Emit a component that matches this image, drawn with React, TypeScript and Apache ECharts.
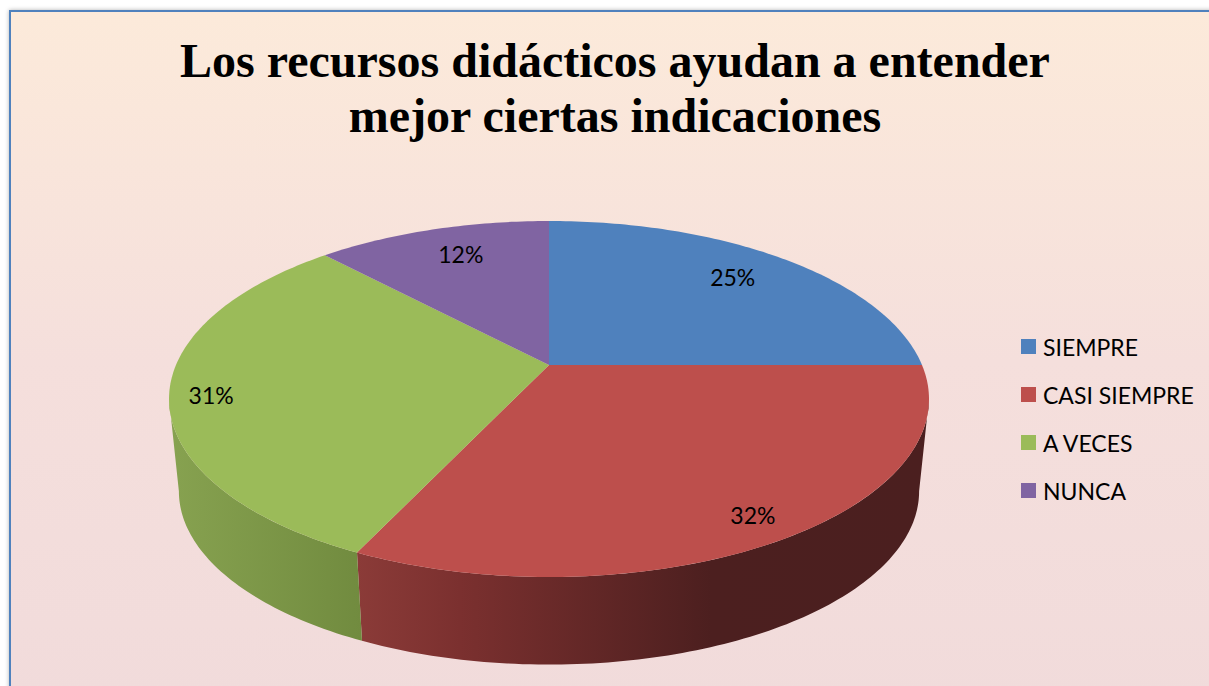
import React, { useEffect, useRef } from "react";
import * as echarts from "echarts";

const TITLE = "Los recursos didácticos ayudan a entender\nmejor ciertas indicaciones";
const categories = ["SIEMPRE", "CASI SIEMPRE", "A VECES", "NUNCA"];
const values = [25, 32, 31, 12];
const topColors = ["#4f81bd", "#bd4f4c", "#9bbb59", "#8064a2"];
const labelRadius = [0.769, 0.876, 0.89, 0.725];
const labelShift = [
  [0, -4],
  [0, 2],
  [-1, 5],
  [0, -9],
];

// Perspective disc model
const APEX_X = 549;
const APEX_Y = 365;
const A = 373;
const B = 171.5;
const K = 0.191;
const DEPTH_SCALE = 0.974;
const DEPTH_SHIFT = 102.6;
const WALL_FROM = 101;
const WALL_TO = 259;

const total = values.reduce((s, v) => s + v, 0);
const startOf = (i: number) => values.slice(0, i).reduce((s, v) => s + v, 0);
const rad = (d: number) => (d * Math.PI) / 180;

const project = (deg: number, t = 1): [number, number] => {
  const u = Math.sin(rad(deg)) * t;
  const v = -Math.cos(rad(deg)) * t;
  const d = 1 - K * v;
  return [APEX_X + (A * u) / d, APEX_Y + (B * v) / d];
};
const lower = (p: [number, number]): [number, number] => [
  APEX_X + (p[0] - APEX_X) * DEPTH_SCALE,
  p[1] * DEPTH_SCALE + DEPTH_SHIFT,
];
const arc = (a: number, b: number) => {
  const pts: [number, number][] = [];
  const n = Math.max(2, Math.ceil(Math.abs(b - a)));
  for (let i = 0; i <= n; i++) pts.push(project(a + ((b - a) * i) / n));
  return pts;
};

const wallFill = (i: number) =>
  i === 1
    ? new echarts.graphic.LinearGradient(0, 0, 1, 0, [
        { offset: 0, color: "#8b3b38" },
        { offset: 0.18, color: "#7b302f" },
        { offset: 0.62, color: "#4c1f1f" },
        { offset: 1, color: "#4b1f1f" },
      ])
    : new echarts.graphic.LinearGradient(0, 0, 1, 0, [
        { offset: 0, color: "#87a250" },
        { offset: 1, color: "#718b3f" },
      ]);

const renderSlice = (i: number) => (_: any, api: any) => {
  const value = api.value(0);
  const a0 = (startOf(i) / total) * 360;
  const a1 = a0 + (value / total) * 360;
  const children: any[] = [];
  const w0 = Math.max(a0, WALL_FROM);
  const w1 = Math.min(a1, WALL_TO);
  if (w1 > w0) {
    const up = arc(w0, w1);
    const down = up.map(lower).reverse();
    children.push({
      type: "polygon",
      shape: { points: [...up, ...down] },
      style: { fill: wallFill(i) },
    });
  }
  children.push({
    type: "polygon",
    shape: { points: [[APEX_X, APEX_Y], ...arc(a0, a1)] },
    style: { fill: topColors[i] },
  });
  const mid = (a0 + a1) / 2;
  const [lx, ly] = project(mid, labelRadius[i]);
  children.push({
    type: "text",
    z2: 10,
    style: {
      text: `${value}%`,
      x: lx + labelShift[i][0],
      y: ly + labelShift[i][1],
      align: "center",
      verticalAlign: "middle",
      fontFamily: "Lato",
      fontSize: 23,
      fill: "#000",
    },
  });
  return { type: "group", children };
};

export default function App() {
  const ref = useRef<HTMLDivElement>(null);
  useEffect(() => {
    const chart = echarts.init(ref.current!, null, { renderer: "svg" });
    chart.setOption({
      animation: false,
      backgroundColor: "#ffffff",
      title: {
        text: TITLE,
        left: 610,
        top: 28,
        textAlign: "center",
        textStyle: {
          fontFamily: "Liberation Serif",
          fontWeight: "bold",
          fontSize: 48,
          lineHeight: 55,
          color: "#000",
        },
      },
      legend: {
        orient: "vertical",
        left: 1016,
        top: 330,
        itemWidth: 15,
        itemHeight: 15,
        itemGap: 25,
        icon: "rect",
        selectedMode: false,
        textStyle: { fontFamily: "Lato", fontSize: 23, color: "#000", padding: [0, 0, 0, 2] },
        data: categories.map((name, i) => ({ name, itemStyle: { color: topColors[i] } })),
      },
      graphic: [
        {
          type: "rect",
          z: -100,
          silent: true,
          shape: { x: 10, y: 11, width: 1230, height: 700 },
          style: {
            fill: new echarts.graphic.LinearGradient(0, 0, 0, 1, [
              { offset: 0, color: "#fceada" },
              { offset: 0.5, color: "#f5dfdc" },
              { offset: 1, color: "#f1dbdb" },
            ]),
            stroke: "#4f81bd",
            lineWidth: 2,
            shadowBlur: 4,
            shadowColor: "rgba(0,0,0,0.3)",
          },
        },
      ],
      series: categories.map((name, i) => ({
        type: "custom",
        name,
        coordinateSystem: "none",
        itemStyle: { color: topColors[i] },
        renderItem: renderSlice(i),
        data: [[values[i]]],
      })),
    });
    return () => chart.dispose();
  }, []);
  return <div ref={ref} style={{ position: "fixed", left: 0, top: 0, width: 1209, height: 686 }} />;
}
